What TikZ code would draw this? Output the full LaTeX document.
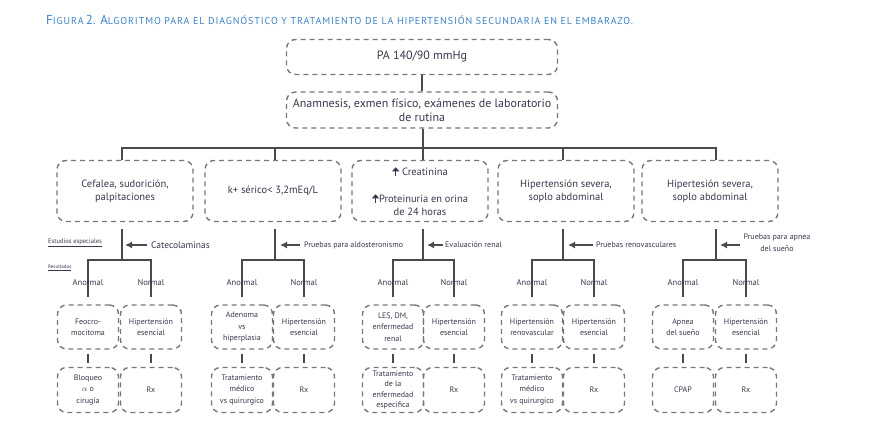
\documentclass[tikz,border=0pt]{standalone}
\usepackage{fontspec}
\setmainfont{PT Sans}
\usetikzlibrary{arrows.meta}
\definecolor{txtgray}{HTML}{36384C}
\definecolor{linegray}{HTML}{4A4A4A}
\definecolor{dashgray}{HTML}{777777}
\definecolor{titleblue}{HTML}{3C82C4}
\newcommand{\tbig}[1]{{\fontsize{13}{15}\selectfont #1}}
\newcommand{\tsm}[1]{{\fontsize{10}{12}\selectfont\addfontfeatures{LetterSpace=9}#1}}
\newcommand{\upar}{\tikz[baseline=0pt]\draw[txtgray,line width=1.3pt,-{Triangle[length=4pt,width=7pt]}] (0pt,-0.5pt) -- (0pt,8pt);}
\begin{document}
\begin{tikzpicture}[x=1pt,y=-1pt,
    every node/.style={text=txtgray, font=\fontsize{8.5}{10}\selectfont},
    dbox/.style={draw=dashgray, line width=1.4pt, dash pattern=on 5pt off 4pt, rounded corners=9pt, align=center, inner sep=1pt},
    topbox/.style={dbox, minimum width=271pt, minimum height=35pt, font=\fontsize{12}{14}\selectfont},
    midbox/.style={dbox, minimum width=136pt, minimum height=61pt, font=\fontsize{10.5}{13}\selectfont},
    smallbox/.style={dbox, minimum width=61pt, minimum height=45pt, font=\fontsize{8}{11.5}\selectfont},
    link/.style={draw=linegray, line width=1.8pt},
    side/.style={draw=linegray, line width=1.4pt, -{Latex[length=7pt,width=7pt]}},
    note/.style={anchor=west, inner sep=1pt, font=\fontsize{8}{10}\selectfont},
    res/.style={inner sep=1pt, font=\fontsize{8.5}{10}\selectfont}]
  \useasboundingbox (0,0) rectangle (886,435);
  \node[anchor=west, text=titleblue, inner sep=0pt] (title) at (46,20) {\tbig{F}\tsm{IGURA} \tbig{2. A}\tsm{LGORITMO PARA EL DIAGNÓSTICO Y TRATAMIENTO DE LA HIPERTENSIÓN SECUNDARIA EN EL EMBARAZO.}};
  % top of the algorithm
  \node[topbox] (pa) at (422,57) {PA 140/90 mmHg};
  \node[topbox, minimum height=36pt] (anam) at (422,110) {Anamnesis, exmen físico, exámenes de laboratorio\\de rutina};
  \draw[link] (pa) -- (anam);
  % first findings
  \node[midbox] (cef) at (125,191) {Cefalea, sudorición,\\palpitaciones};
  \node[midbox] (pot) at (273,191) {k+ sérico< 3,2mEq/L};
  \node[midbox] (cre) at (420,191) {\upar\ Creatinina\\[14pt]\upar Proteinuria en orina\\de 24 horas};
  \node[midbox] (sev) at (566,191) {Hipertensión severa,\\soplo abdominal};
  \node[midbox] (apn) at (710,191) {Hipertesión severa,\\soplo abdominal};
  \coordinate (bus) at (0,148);
  \coordinate (sub) at (0,260);
  \coordinate (cA) at (122,0);
  \coordinate (cB) at (275,0);
  \coordinate (cC) at (423,0);
  \coordinate (cD) at (563,0);
  \coordinate (cE) at (716,0);
  \draw[link] (cef.north -| cA) -- (bus -| cA) -- (bus -| cE) -- (apn.north -| cE);
  \draw[link] (pot.north -| cB) -- (bus -| cB);
  \draw[link] (sev.north -| cD) -- (bus -| cD);
  \draw[link] (anam.south -| cC) -- (cre.north -| cC);
  % studies
  \node[note, font=\fontsize{6.5}{8}\selectfont] (est) at (47,243) {\underline{Estudios especiales}};
  \node[note, font=\fontsize{5}{6}\selectfont] (resul) at (47,268) {\underline{Resultados}};
  \node[note, font=\fontsize{9.5}{11}\selectfont] (catec) at (150,245) {Catecolaminas};
  \node[note] (aldo) at (303,245) {Pruebas para aldosteronismo};
  \node[note] (eval) at (444,245) {Evaluación renal};
  \node[note] (renov) at (595,245) {Pruebas renovasculares};
  \node[inner sep=1pt, align=center, font=\fontsize{8}{12}\selectfont] (pruap) at (777,243) {Pruebas para apnea\\del sueño};
  \foreach \b/\c in {cef/cA, pot/cB, cre/cC, sev/cD, apn/cE}
    \draw[link, shorten <=7pt] (\b.south -| \c) -- (sub -| \c);
  \draw[side, shorten <=3pt, shorten >=3pt] (catec.west) -- (catec.west -| cA);
  \draw[side, shorten <=3pt, shorten >=5pt] (aldo.west) -- (aldo.west -| cB);
  \draw[side, shorten <=1pt, shorten >=4pt] (eval.west) -- (eval.west -| cC);
  \draw[side, shorten <=2pt, shorten >=5pt] (renov.west) -- (renov.west -| cD);
  \draw[side, shorten <=2pt, shorten >=4pt] (pruap.west |- catec) -- (catec -| cE);
  % results, column A
  \node[smallbox, minimum height=44pt] (feo) at (88,327) {Feocro-\\mocitoma};
  \node[smallbox, minimum height=44pt] (heA) at (151,327) {Hipertensión\\esencial};
  \node[smallbox] (bloq) at (88,390) {Bloqueo\\$\alpha$ o\\cirugía};
  \node[smallbox] (rxA) at (151,390) {Rx};
  % column B
  \node[smallbox, minimum height=44pt] (ade) at (242,327) {Adenoma\\vs\\hiperplasia};
  \node[smallbox, minimum height=44pt] (heB) at (304,327) {Hipertensión\\esencial};
  \node[smallbox] (tratB) at (242,390) {Tratamiento\\médico\\vs quirurgico};
  \node[smallbox] (rxB) at (304,390) {Rx};
  % column C
  \node[smallbox, minimum height=44pt] (les) at (393,327) {LES, DM,\\enfermedad\\renal};
  \node[smallbox, minimum height=44pt] (heC) at (454,327) {Hipertensión\\esencial};
  \node[smallbox, font=\fontsize{8}{10.5}\selectfont] (tratC) at (393,390) {Tratamiento\\de la\\enfermedad\\especifica};
  \node[smallbox] (rxC) at (454,390) {Rx};
  % column D
  \node[smallbox, minimum height=44pt] (hrv) at (532,327) {Hipertensión\\renovascular};
  \node[smallbox, minimum height=44pt] (heD) at (594,327) {Hipertensión\\esencial};
  \node[smallbox] (tratD) at (532,390) {Tratamiento\\médico\\vs quirurgico};
  \node[smallbox] (rxD) at (594,390) {Rx};
  % column E
  \node[smallbox, minimum height=44pt] (apsu) at (683,327) {Apnea\\del sueño};
  \node[smallbox, minimum height=44pt] (heE) at (746,327) {Hipertensión\\esencial};
  \node[smallbox] (cpap) at (683,390) {CPAP};
  \node[smallbox] (rxE) at (746,390) {Rx};
  \foreach \l/\r/\c in {feo/heA/cA, ade/heB/cB, les/heC/cC, hrv/heD/cD, apsu/heE/cE}
    \draw[link, shorten <=7pt, shorten >=7pt] (\l.north) |- (sub -| \c) -| (\r.north);
  \foreach \u/\d in {feo/bloq, heA/rxA, ade/tratB, heB/rxB, les/tratC, heC/rxC, hrv/tratD, heD/rxD, apsu/cpap, heE/rxE}
    \draw[link, shorten <=4pt, shorten >=4pt] (\u) -- (\d);
  \node[res] (anA) at (88,283) {Anormal};
  \node[res] (noA) at (151,283) {Normal};
  \node[res] (anB) at (242,283) {Anormal};
  \node[res] (noB) at (304,283) {Normal};
  \node[res] (anC) at (393,283) {Anormal};
  \node[res] (noC) at (454,283) {Normal};
  \node[res] (anD) at (532,283) {Anormal};
  \node[res] (noD) at (594,283) {Normal};
  \node[res] (anE) at (683,283) {Anormal};
  \node[res] (noE) at (746,283) {Normal};
\end{tikzpicture}
\end{document}
